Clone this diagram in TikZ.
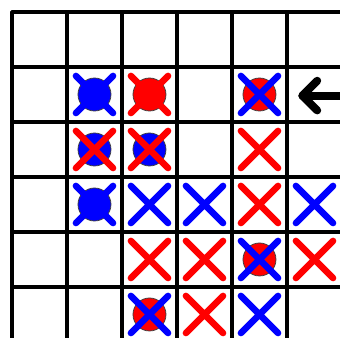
\documentclass[tikz,border=0pt]{standalone}
\usetikzlibrary{shapes.misc}
\tikzset{
  gridline/.style={line width=1.7pt, line cap=round},
  disk/.style={circle, draw=black!75, line width=0.4pt, minimum size=0.6cm, inner sep=0pt},
  xcross/.style={cross out, draw=#1, line width=3.4pt, line cap=round, minimum size=0.555cm, inner sep=0pt},
  pointer/.style={line width=4.1pt, line cap=round, line join=round}
}
\begin{document}
\begin{tikzpicture}
    \useasboundingbox (-0.218,0.218) rectangle (5.964,-5.927);
    \clip (-0.218,0.218) rectangle (5.964,-5.927);

    % Board
    \draw[gridline] (0,0) grid (6.5,-6.5);

    % Disks
    \foreach \c/\r in {1/1, 1/2, 2/2, 1/3} {
        \node[disk, fill=blue] (d\c\r) at ({\c+0.5},{-\r-0.5}) {};
    }
    \foreach \c/\r in {2/1, 4/1, 4/4, 2/5} {
        \node[disk, fill=red] (d\c\r) at ({\c+0.5},{-\r-0.5}) {};
    }

    % Crosses
    \foreach \c/\r in {1/1, 4/1, 1/3, 2/3, 3/3, 5/3, 4/4, 2/5, 4/5} {
        \node[xcross=blue] (x\c\r) at ({\c+0.5},{-\r-0.5}) {};
    }
    \foreach \c/\r in {2/1, 1/2, 2/2, 4/2, 4/3, 2/4, 3/4, 5/4, 3/5} {
        \node[xcross=red] (x\c\r) at ({\c+0.5},{-\r-0.5}) {};
    }

    % Arrow
    \coordinate (arrowtail) at (6.4,-1.52);
    \coordinate (arrowtip) at (5.28,-1.52);
    \draw[pointer] (arrowtail) -- (arrowtip);
    \draw[pointer] ([shift={(0.27,0.27)}]arrowtip) -- (arrowtip) -- ([shift={(0.27,-0.27)}]arrowtip);
\end{tikzpicture}
\end{document}
